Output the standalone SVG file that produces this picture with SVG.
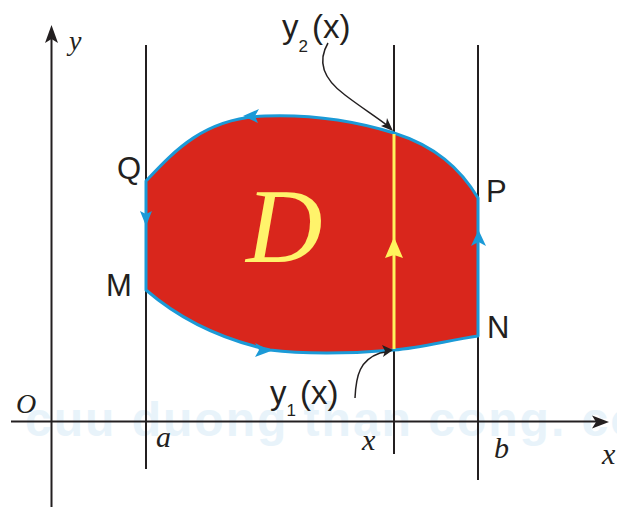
<svg xmlns="http://www.w3.org/2000/svg" width="617" height="508" viewBox="0 0 617 508">
<style>
.ax{stroke:#231f20;stroke-width:2;fill:none}
.vl{stroke:#231f20;stroke-width:2;fill:none}
.lbl{font-family:"Liberation Sans",Arial,sans-serif;fill:#231f20}
.var{font-family:"Liberation Serif","Times New Roman",serif;font-style:italic;fill:#231f20}
.blue{fill:#1b9ad7}
.lead{stroke:#231f20;stroke-width:1.5;fill:none}
.wm{font-family:"Liberation Sans",Arial,sans-serif;font-weight:bold;fill:#e8f3fa}
</style>
<rect width="617" height="508" fill="#ffffff"/>
<text class="wm" x="25" y="436" font-size="48" letter-spacing="2">cuu duong than cong. com</text>
<g id="axes">
<line class="ax" x1="11" y1="421.5" x2="600" y2="421.5"/>
<polygon fill="#231f20" points="609,422 592,415.5 596,422 592,428.5"/>
<line class="ax" x1="51.5" y1="507" x2="51.5" y2="35"/>
<polygon fill="#231f20" points="51.5,25 45,43 51.5,39 58,43"/>
</g>
<g id="line-a"><line class="vl" x1="146" y1="45" x2="146" y2="469"/></g>
<g id="line-x"><line class="vl" x1="394" y1="45" x2="394" y2="454"/></g>
<g id="line-b"><line class="vl" x1="478" y1="45" x2="478" y2="480"/></g>
<g id="region-D">
<path d="M146,181 C175,150 205,118 265,116 C320,114 365,124 394,133 C435,146 460,168 478,198 L478,336 C450,340 420,348 394,350 C350,354 300,354 270,350 C215,338 175,315 146,290 Z" fill="#d9261c" stroke="#1b9ad7" stroke-width="3" stroke-linejoin="round"/>
<polygon class="blue" points="243,116 259,109 255,116 258,123"/>
<polygon class="blue" points="271,351 255,343 259,350 255,357"/>
<polygon class="blue" points="146,226 140,211 146,214 152,211"/>
<polygon class="blue" points="478.5,230 471,246 478.5,242 486,246"/>
<line x1="394" y1="134" x2="394" y2="349" stroke="#fff35c" stroke-width="3"/>
<polygon fill="#fff35c" points="394,237 385,258 394,255 403,258"/>
<text x="246" y="262" font-family="'Liberation Serif','Times New Roman',serif" font-style="italic" font-size="106" fill="#fff36b">D</text>
</g>
<g id="label-Q"><text class="lbl" x="117" y="179" font-size="31">Q</text></g>
<g id="label-M"><text class="lbl" x="106" y="296" font-size="31">M</text></g>
<g id="label-P"><text class="lbl" x="486" y="202" font-size="31">P</text></g>
<g id="label-N"><text class="lbl" x="487" y="338" font-size="31">N</text></g>
<g id="label-y2"><text class="lbl" x="282" y="38" font-size="33">y<tspan font-size="17" dy="14">2</tspan><tspan dy="-14" dx="4">(x)</tspan></text></g>
<g id="label-y1"><text class="lbl" x="270" y="404" font-size="33">y<tspan font-size="17" dy="12">1</tspan><tspan dy="-12" dx="4">(x)</tspan></text></g>
<g id="label-axes">
<text class="var" x="69" y="50" font-size="28">y</text>
<text class="var" x="16" y="413" font-size="28">O</text>
<text class="var" x="156" y="447" font-size="30">a</text>
<text class="var" x="362" y="450" font-size="30">x</text>
<text class="var" x="494" y="458" font-size="30">b</text>
<text class="var" x="602" y="464" font-size="30">x</text>
</g>
<g id="connectors">
<path class="lead" d="M328,43 C318,60 322,78 345,95 C362,108 375,116 388,126"/>
<polygon fill="#231f20" points="393,131 381,126 386,124 387,118"/>
<path class="lead" d="M355,398 C356,375 360,360 380,353 L386,352"/>
<polygon fill="#231f20" points="393,350 382,345 385,351 383,357"/>
</g>
</svg>
